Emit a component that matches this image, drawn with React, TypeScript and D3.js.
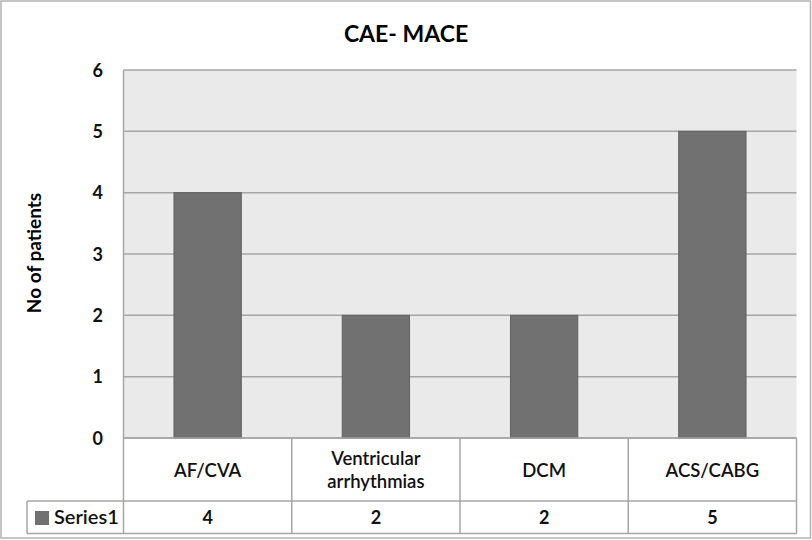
import React from "react";
import * as d3 from "d3";

const categories = ["AF/CVA", "Ventricular arrhythmias", "DCM", "ACS/CABG"];
const categoryLines = [["AF/CVA"], ["Ventricular", "arrhythmias"], ["DCM"], ["ACS/CABG"]];
const values = [4, 2, 2, 5];
const yTicks = [0, 1, 2, 3, 4, 5, 6];
const seriesName = "Series1";
const title = "CAE- MACE";
const yTitle = "No of patients";

const W = 812;
const H = 540;
const FONT = "Lato, 'Open Sans', sans-serif";

export default function App() {
  const left = 123.5;
  const right = 796.5;
  const top = 70;
  const bottom = 438;
  const tableRow1 = 501;
  const tableBottom = 533.5;
  const legendLeft = 27;

  const x = d3.scaleBand<string>().domain(categories).range([left, right]).paddingInner(0.6).paddingOuter(0.3);
  const xc = d3.scaleBand<string>().domain(categories).range([left, right]);
  const y = d3.scaleLinear().domain([0, 6]).range([bottom, top]);

  const grid = "#a6a6a6";
  const tcol = "#a6a6a6";

  return (
    <svg width={W} height={H} style={{ position: "absolute", left: 0, top: 0 }}>
      <rect x={1} y={1} width={W - 2.5} height={H - 3} fill="#fff" stroke="#b3b3b3" strokeWidth={1.5} />
      <text x={406} y={42} textAnchor="middle" fontFamily={FONT} fontWeight="bold" fontSize={23} fill="#000">
        {title}
      </text>
      <rect x={left} y={top} width={right - left} height={bottom - top} fill="#eaeaea" />
      {yTicks.map((t) => (
        <g key={t}>
          <line x1={left} x2={right} y1={y(t)} y2={y(t)} stroke={grid} strokeWidth={1.5} />
          <text x={103} y={y(t) + 6.5} textAnchor="end" fontFamily={FONT} fontWeight="bold" fontSize={18} fill="#111">
            {t}
          </text>
        </g>
      ))}
      <line x1={left} x2={left} y1={top} y2={bottom} stroke={grid} strokeWidth={1.5} />
      {categories.map((c, i) => (
        <rect
          key={c}
          x={x(c)}
          y={y(values[i])}
          width={x.bandwidth()}
          height={y(0) - y(values[i])}
          fill="#717171"
          stroke="#606060"
          strokeWidth={1}
        />
      ))}
      <text
        transform={`translate(41,253) rotate(-90)`}
        textAnchor="middle"
        fontFamily={FONT}
        fontWeight="bold"
        fontSize={19}
        fill="#000"
      >
        {yTitle}
      </text>
      {/* data table */}
      <g fill="none" stroke={tcol} strokeWidth={1.5}>
        <line x1={left} x2={right} y1={bottom} y2={bottom} />
        <line x1={legendLeft} x2={right} y1={tableRow1} y2={tableRow1} />
        <line x1={legendLeft} x2={right} y1={tableBottom} y2={tableBottom} />
        <line x1={legendLeft} x2={legendLeft} y1={tableRow1} y2={tableBottom} />
        {categories.map((c) => (
          <line key={c} x1={xc(c)} x2={xc(c)} y1={bottom} y2={tableBottom} />
        ))}
        <line x1={right} x2={right} y1={bottom} y2={tableBottom} />
      </g>
      {categories.map((c, i) => {
        const cx = (xc(c) as number) + xc.bandwidth() / 2;
        const lines = categoryLines[i];
        const mid = (bottom + tableRow1) / 2;
        const lh = 23;
        return (
          <g key={c}>
            {lines.map((l, j) => (
              <text
                key={j}
                x={cx}
                y={mid + 7 + (j - (lines.length - 1) / 2) * lh}
                textAnchor="middle"
                fontFamily={FONT}
                fontWeight={600}
                fontSize={18.5}
                fill="#111"
              >
                {l}
              </text>
            ))}
            <text
              x={cx}
              y={(tableRow1 + tableBottom) / 2 + 6.5}
              textAnchor="middle"
              fontFamily={FONT}
              fontWeight="bold"
              fontSize={18}
              fill="#111"
            >
              {values[i]}
            </text>
          </g>
        );
      })}
      <rect x={35} y={511} width={14} height={14} fill="#717171" />
      <text x={54} y={(tableRow1 + tableBottom) / 2 + 6.5} fontFamily={FONT} fontWeight={600} fontSize={20} fill="#111">
        {seriesName}
      </text>
    </svg>
  );
}
